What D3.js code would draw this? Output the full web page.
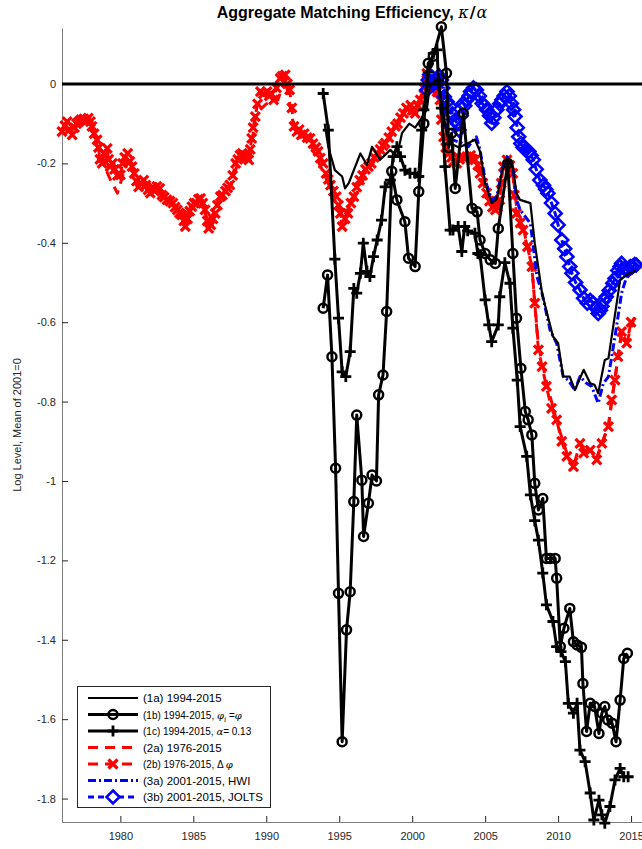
<!DOCTYPE html>
<html>
<head>
<meta charset="utf-8">
<script src="https://cdn.jsdelivr.net/npm/d3@7"></script>
<style>
  body { margin: 0; background: #fff; }
  text { font-family: "Liberation Sans", Arial, sans-serif; fill: #262626; }
  .greek { font-family: "DejaVu Serif", serif; font-style: italic; font-weight: normal; }
</style>
</head>
<body>
<svg id="chart"></svg>
<script>
// x tick labels
const yearTicks = [1980, 1985, 1990, 1995, 2000, 2005, 2010, 2015];
const levelTicks = [0, -0.2, -0.4, -0.6, -0.8, -1, -1.2, -1.4, -1.6, -1.8];

// (1a) 1994-2015
const s1a = [[1994.0,-0.1],[1994.25,-0.158],[1994.7,-0.217],[1995.2,-0.233],[1995.4,-0.263],[1995.65,-0.25],
  [1996.45,-0.175],[1996.9,-0.204],[1997.25,-0.158],[1997.8,-0.191],[1998.5,-0.166],[1998.95,-0.183],
  [1999.3,-0.124],[1999.8,-0.1],[2000.2,-0.11],[2000.55,-0.091],[2001.0,-0.065],[2001.2,-0.007],
  [2001.7,0.01],[2002.0,-0.04],[2002.35,-0.124],[2002.6,-0.149],[2003.2,-0.16],[2003.8,-0.15],
  [2004.3,-0.14],[2004.65,-0.17],[2005.0,-0.25],[2005.45,-0.3],[2005.8,-0.29],[2006.15,-0.22],
  [2006.5,-0.19],[2006.9,-0.21],[2007.15,-0.275],[2007.4,-0.292],[2008.1,-0.3],[2008.4,-0.401],
  [2008.9,-0.527],[2009.3,-0.586],[2009.65,-0.636],[2010.0,-0.653],[2010.35,-0.737],[2010.8,-0.737],
  [2011.15,-0.771],[2011.75,-0.72],[2012.2,-0.754],[2012.5,-0.758],[2012.75,-0.779],[2013.2,-0.695],
  [2013.45,-0.691],[2014.25,-0.494],[2014.7,-0.48],[2015.35,-0.47]];

// (1b) 1994-2015, phi_i = phi
const s1b = [[1993.9,-0.565],[1994.2,-0.481],[1994.5,-0.687],[1994.75,-0.968],[1994.95,-1.283],[1995.2,-1.657],
  [1995.5,-1.375],[1995.75,-1.279],[1996.0,-1.052],[1996.2,-0.834],[1996.55,-0.998],[1996.67,-1.14],
  [1997.0,-1.056],[1997.25,-0.985],[1997.55,-1.0],[1997.7,-0.783],[1998.0,-0.733],[1998.25,-0.573],
  [1998.6,-0.22],[1998.95,-0.292],[1999.5,-0.347],[1999.75,-0.439],[2000.2,-0.46],[2000.45,-0.271],
  [2000.8,-0.1],[2001.1,0.052],[2001.45,0.07],[2002.0,0.144],[2002.35,0.027],[2002.5,-0.16],
  [2002.7,-0.124],[2002.95,-0.263],[2003.5,-0.074],[2004.1,-0.313],[2004.45,-0.322],[2004.65,-0.393],
  [2005.0,-0.427],[2005.35,-0.443],[2005.7,-0.452],[2005.9,-0.364],[2006.55,-0.2],[2006.9,-0.427],
  [2007.15,-0.59],[2007.45,-0.716],[2007.75,-0.825],[2007.95,-0.846],[2008.2,-0.884],[2008.4,-1.006],
  [2008.65,-1.073],[2008.95,-1.044],[2009.2,-1.195],[2009.45,-1.195],[2009.8,-1.195],[2009.9,-1.245],
  [2010.15,-1.417],[2010.4,-1.371],[2010.8,-1.321],[2011.05,-1.405],[2011.3,-1.413],[2011.6,-1.419],
  [2011.7,-1.51],[2011.95,-1.631],[2012.2,-1.56],[2012.5,-1.568],[2012.8,-1.636],[2013.0,-1.585],
  [2013.2,-1.568],[2013.4,-1.602],[2013.7,-1.61],[2013.97,-1.657],[2014.25,-1.552],[2014.5,-1.447],
  [2014.75,-1.434]];

// (1c) 1994-2015, alpha = 0.13
const s1c = [[1993.9,-0.024],[1994.25,-0.116],[1994.7,-0.441],[1994.95,-0.59],[1995.2,-0.725],[1995.45,-0.737],
  [1995.75,-0.674],[1996.0,-0.515],[1996.2,-0.527],[1996.45,-0.477],[1996.65,-0.401],[1996.9,-0.472],
  [1997.1,-0.485],[1997.35,-0.435],[1997.6,-0.393],[1997.9,-0.343],[1998.15,-0.259],[1998.5,-0.242],
  [1998.7,-0.183],[1998.95,-0.158],[1999.2,-0.183],[1999.5,-0.217],[1999.85,-0.225],[2000.2,-0.225],
  [2000.45,-0.233],[2000.65,-0.116],[2000.8,-0.065],[2001.1,0.03],[2001.45,0.077],[2001.7,0.086],
  [2001.8,0.01],[2002.0,-0.061],[2002.25,-0.208],[2002.6,-0.368],[2002.8,-0.368],[2003.15,-0.359],
  [2003.4,-0.422],[2003.6,-0.359],[2003.8,-0.37],[2004.3,-0.376],[2004.5,-0.427],[2004.65,-0.43],
  [2005.0,-0.544],[2005.25,-0.607],[2005.45,-0.649],[2005.9,-0.607],[2006.0,-0.536],[2006.35,-0.45],
  [2006.7,-0.502],[2006.9,-0.615],[2007.2,-0.746],[2007.4,-0.863],[2007.85,-0.938],[2008.1,-1.035],
  [2008.4,-1.1],[2008.65,-1.149],[2008.95,-1.232],[2009.2,-1.312],[2009.65,-1.354],[2009.9,-1.417],
  [2010.2,-1.43],[2010.5,-1.455],[2010.7,-1.56],[2011.05,-1.585],[2011.3,-1.56],[2011.5,-1.678],
  [2011.85,-1.707],[2012.2,-1.786],[2012.45,-1.854],[2012.8,-1.804],[2013.0,-1.841],[2013.2,-1.862],
  [2013.55,-1.82],[2013.9,-1.753],[2014.25,-1.724],[2014.5,-1.745],[2014.8,-1.745]];

// (2a) 1976-2015
const s2a = [[1976.0,-0.11],[1976.7,-0.12],[1977.3,-0.095],[1978.0,-0.1],[1978.6,-0.18],[1979.3,-0.24],
  [1979.8,-0.275],[1980.5,-0.19],[1981.25,-0.25],[1981.9,-0.26],[1982.7,-0.27],[1983.5,-0.3],
  [1984.45,-0.35],[1984.9,-0.31],[1985.5,-0.295],[1986.05,-0.35],[1986.85,-0.29],[1987.5,-0.26],
  [1988.2,-0.185],[1988.8,-0.2],[1989.3,-0.075],[1990.0,-0.05],[1990.8,-0.04],[1991.3,0.015],
  [1991.9,-0.11],[1993.0,-0.15],[1994.25,-0.25],[1995.2,-0.34],[1996.0,-0.29],[1997.0,-0.215],
  [1998.15,-0.155],[1999.4,-0.08],[2000.2,-0.07],[2001.0,0.01],[2001.9,-0.05],[2002.5,-0.165],
  [2003.4,-0.19],[2004.3,-0.18],[2005.1,-0.27],[2005.7,-0.31],[2006.25,-0.21],[2006.5,-0.19],
  [2006.9,-0.22],[2007.15,-0.31],[2007.6,-0.36],[2008.2,-0.46],[2008.65,-0.66],[2009.2,-0.75],
  [2009.9,-0.85],[2010.6,-0.93],[2011.05,-0.955],[2011.75,-0.92],[2012.65,-0.94],[2013.45,-0.86],
  [2013.9,-0.74],[2014.35,-0.63],[2014.7,-0.65],[2015.3,-0.58]];

// (2b) 1976-2015, Delta phi
const s2b = [[1976.0,-0.12],[1976.2,-0.105],[1976.35,-0.095],[1976.5,-0.115],[1976.7,-0.128],[1976.85,-0.11],
  [1977.0,-0.1],[1977.15,-0.095],[1977.3,-0.09],[1977.5,-0.088],[1977.65,-0.092],[1977.8,-0.086],
  [1977.95,-0.095],[1978.05,-0.107],[1978.2,-0.125],[1978.4,-0.141],[1978.5,-0.16],[1978.6,-0.19],
  [1978.75,-0.2],[1978.9,-0.175],[1979.1,-0.162],[1979.2,-0.19],[1979.3,-0.208],[1979.45,-0.2],
  [1979.6,-0.215],[1979.8,-0.23],[1980.0,-0.229],[1980.15,-0.2],[1980.3,-0.185],[1980.5,-0.175],
  [1980.65,-0.195],[1980.8,-0.208],[1980.95,-0.225],[1981.1,-0.245],[1981.25,-0.259],[1981.4,-0.25],
  [1981.6,-0.242],[1981.75,-0.255],[1981.9,-0.267],[1982.05,-0.275],[1982.2,-0.26],[1982.35,-0.27],
  [1982.5,-0.258],[1982.7,-0.263],[1982.85,-0.28],[1983.0,-0.285],[1983.2,-0.292],[1983.4,-0.295],
  [1983.6,-0.3],[1983.75,-0.31],[1983.9,-0.317],[1984.05,-0.325],[1984.2,-0.33],[1984.35,-0.345],
  [1984.45,-0.359],[1984.6,-0.34],[1984.75,-0.32],[1984.9,-0.309],[1985.05,-0.3],[1985.2,-0.3],
  [1985.35,-0.29],[1985.5,-0.288],[1985.65,-0.3],[1985.8,-0.317],[1985.95,-0.345],[1986.05,-0.364],
  [1986.2,-0.355],[1986.35,-0.34],[1986.5,-0.326],[1986.65,-0.305],[1986.85,-0.284],[1987.0,-0.28],
  [1987.2,-0.27],[1987.35,-0.262],[1987.5,-0.254],[1987.7,-0.23],[1987.9,-0.2],[1988.05,-0.19],
  [1988.2,-0.179],[1988.35,-0.175],[1988.5,-0.18],[1988.65,-0.185],[1988.8,-0.191],[1988.9,-0.165],
  [1989.0,-0.137],[1989.1,-0.11],[1989.25,-0.082],[1989.4,-0.05],[1989.6,-0.019],[1989.8,-0.025],
  [1990.05,-0.019],[1990.2,-0.03],[1990.35,-0.025],[1990.5,-0.04],[1990.7,-0.01],[1990.95,0.014],
  [1991.1,0.02],[1991.3,0.023],[1991.45,0.0],[1991.6,-0.015],[1991.75,-0.06],[1991.9,-0.107],
  [1992.1,-0.12],[1992.25,-0.115],[1992.4,-0.128],[1992.6,-0.125],[1992.8,-0.135],[1993.0,-0.137],
  [1993.2,-0.15],[1993.4,-0.16],[1993.55,-0.17],[1993.7,-0.187],[1993.9,-0.2],[1994.1,-0.225],
  [1994.25,-0.24],[1994.4,-0.255],[1994.6,-0.27],[1994.8,-0.284],[1994.95,-0.305],[1995.07,-0.326],
  [1995.2,-0.359],[1995.4,-0.34],[1995.6,-0.326],[1995.8,-0.3],[1996.0,-0.284],[1996.2,-0.26],
  [1996.4,-0.242],[1996.6,-0.23],[1996.8,-0.215],[1997.0,-0.208],[1997.2,-0.2],[1997.4,-0.185],
  [1997.6,-0.175],[1997.8,-0.165],[1998.0,-0.155],[1998.15,-0.149],[1998.4,-0.135],[1998.6,-0.12],
  [1998.85,-0.107],[1999.0,-0.1],[1999.2,-0.085],[1999.4,-0.074],[1999.6,-0.06],[1999.9,-0.053],
  [2000.05,-0.065],[2000.2,-0.074],[2000.4,-0.055],[2000.55,-0.04],[2000.8,-0.01],[2001.0,0.027],
  [2001.2,0.01],[2001.45,-0.007],[2001.7,-0.02],[2001.9,-0.04],[2002.0,-0.09],[2002.15,-0.133],
  [2002.3,-0.16],[2002.5,-0.175],[2002.7,-0.185],[2002.85,-0.195],[2003.05,-0.2],[2003.25,-0.19],
  [2003.5,-0.185],[2003.75,-0.183],[2004.0,-0.18],[2004.15,-0.19],[2004.3,-0.191],[2004.5,-0.205],
  [2004.65,-0.225],[2004.85,-0.25],[2005.1,-0.275],[2005.3,-0.295],[2005.5,-0.31],[2005.7,-0.317],
  [2005.85,-0.31],[2006.0,-0.292],[2006.1,-0.25],[2006.25,-0.208],[2006.5,-0.191],[2006.7,-0.205],
  [2006.9,-0.225],[2007.0,-0.28],[2007.15,-0.326],[2007.4,-0.35],[2007.6,-0.368],[2007.9,-0.41],
  [2008.2,-0.46],[2008.4,-0.552],[2008.65,-0.67],[2008.9,-0.712],[2009.2,-0.762],[2009.55,-0.817],
  [2009.9,-0.846],[2010.25,-0.9],[2010.6,-0.938],[2011.05,-0.964],[2011.5,-0.905],[2011.75,-0.93],
  [2012.2,-0.922],[2012.65,-0.947],[2013.0,-0.905],[2013.45,-0.863],[2013.67,-0.796],[2013.9,-0.746],
  [2014.1,-0.687],[2014.35,-0.624],[2014.7,-0.653],[2015.0,-0.6]];

// (3a) 2001-2015, HWI
const s3a = [[2001.0,0.0],[2001.5,0.02],[2002.1,0.01],[2002.35,-0.124],[2002.8,-0.141],[2003.4,-0.149],
  [2003.85,-0.158],[2004.1,-0.145],[2004.4,-0.133],[2004.65,-0.166],[2005.0,-0.242],[2005.45,-0.292],
  [2005.8,-0.284],[2006.15,-0.217],[2006.5,-0.183],[2006.9,-0.208],[2007.15,-0.292],[2007.4,-0.317],
  [2008.1,-0.351],[2008.55,-0.485],[2008.9,-0.527],[2009.45,-0.62],[2009.9,-0.653],[2010.35,-0.737],
  [2010.7,-0.746],[2011.15,-0.771],[2011.5,-0.737],[2011.95,-0.754],[2012.3,-0.762],[2012.75,-0.804],
  [2013.1,-0.754],[2013.45,-0.737],[2013.9,-0.636],[2014.35,-0.527],[2014.7,-0.485],[2015.35,-0.469]];

// (3b) 2001-2015, JOLTS
const s3b = [[2001.0,-0.015],[2001.1,0.01],[2001.2,0.023],[2001.35,0.005],[2001.45,0.0],[2001.6,0.01],
  [2001.7,0.014],[2001.85,0.02],[2002.0,0.01],[2002.1,-0.01],[2002.2,-0.032],[2002.4,-0.045],
  [2002.6,-0.057],[2002.75,-0.075],[2002.95,-0.091],[2003.1,-0.1],[2003.2,-0.116],[2003.35,-0.08],
  [2003.5,-0.049],[2003.6,-0.055],[2003.75,-0.04],[2003.9,-0.03],[2004.0,-0.019],[2004.2,-0.01],
  [2004.4,-0.015],[2004.6,-0.03],[2004.8,-0.049],[2004.95,-0.055],[2005.1,-0.065],[2005.3,-0.08],
  [2005.45,-0.099],[2005.6,-0.085],[2005.8,-0.065],[2006.0,-0.05],[2006.15,-0.04],[2006.3,-0.03],
  [2006.5,-0.019],[2006.65,-0.03],[2006.8,-0.049],[2006.95,-0.065],[2007.05,-0.082],[2007.2,-0.11],
  [2007.3,-0.133],[2007.45,-0.15],[2007.6,-0.16],[2007.8,-0.165],[2008.0,-0.17],[2008.15,-0.18],
  [2008.3,-0.191],[2008.5,-0.215],[2008.75,-0.242],[2009.0,-0.255],[2009.15,-0.265],[2009.3,-0.275],
  [2009.55,-0.3],[2009.8,-0.326],[2010.0,-0.355],[2010.25,-0.393],[2010.45,-0.415],[2010.6,-0.435],
  [2010.8,-0.46],[2010.95,-0.477],[2011.2,-0.5],[2011.5,-0.519],[2011.75,-0.54],[2012.0,-0.552],
  [2012.2,-0.545],[2012.4,-0.552],[2012.6,-0.565],[2012.75,-0.578],[2012.9,-0.57],[2013.0,-0.56],
  [2013.15,-0.545],[2013.3,-0.536],[2013.5,-0.52],[2013.75,-0.502],[2013.9,-0.49],[2014.1,-0.47],
  [2014.25,-0.46],[2014.35,-0.452],[2014.55,-0.465],[2014.8,-0.469],[2014.95,-0.46],[2015.1,-0.46],
  [2015.25,-0.455],[2015.35,-0.456]];

const legendLabels = ['(1a) 1994-2015', '(1b) 1994-2015, ', '(1c) 1994-2015, ', '(2a) 1976-2015',
  '(2b) 1976-2015, ', '(3a) 2001-2015, HWI', '(3b) 2001-2015, JOLTS'];

const W = 642, H = 849;
const svg = d3.select('#chart').attr('width', W).attr('height', H);

const x = d3.scaleLinear().domain([1976, 2015.75]).range([62, 642]);
const y = d3.scaleLinear().domain([-1.859, 0.141]).range([822, 28]);

// marker shapes
const markers = {
  circle: 'M4.5,0A4.5,4.5 0 1,1 -4.5,0A4.5,4.5 0 1,1 4.5,0Z',
  plus: 'M-5.5,0H5.5M0,-5.5V5.5',
  cross: 'M-4.5,-4.5L4.5,4.5M-4.5,4.5L4.5,-4.5',
  diamond: 'M0,-6.5L6.5,0L0,6.5L-6.5,0Z'
};

const styles = {
  s1a: { color: '#000', width: 2.2, dash: null, marker: null, mw: 0 },
  s1b: { color: '#000', width: 3, dash: null, marker: 'circle', mw: 2.5 },
  s1c: { color: '#000', width: 3, dash: null, marker: 'plus', mw: 2.8 },
  s2a: { color: '#ff0000', width: 3, dash: '10,7', marker: null, mw: 0 },
  s2b: { color: '#ff0000', width: 3, dash: '10,7', marker: 'cross', mw: 3.2 },
  s3a: { color: '#0000ff', width: 3, dash: '8,3,2,3', marker: null, mw: 0 },
  s3b: { color: '#0000ff', width: 3, dash: '6,4', marker: 'diamond', mw: 2.6 }
};

const line = d3.line().x(d => x(d[0])).y(d => y(d[1]));

function drawSeries(data, st) {
  svg.append('path')
    .attr('d', line(data))
    .attr('fill', 'none')
    .attr('stroke', st.color)
    .attr('stroke-width', st.width)
    .attr('stroke-dasharray', st.dash)
    .attr('stroke-linejoin', 'round');
  if (st.marker) {
    svg.append('g').selectAll('path')
      .data(data)
      .enter()
      .append('path')
      .attr('transform', d => `translate(${x(d[0])},${y(d[1])})`)
      .attr('d', markers[st.marker])
      .attr('fill', 'none')
      .attr('stroke', st.color)
      .attr('stroke-width', st.mw);
  }
}

// axes (ticks point inward, no box)
const xAxis = svg.append('g')
  .attr('transform', 'translate(0,822)')
  .call(d3.axisBottom(x).tickValues(yearTicks).tickFormat(d3.format('d')).tickSizeInner(-6).tickSizeOuter(0).tickPadding(10));
const yAxis = svg.append('g')
  .attr('transform', 'translate(62,0)')
  .call(d3.axisLeft(y).tickValues(levelTicks).tickFormat(d => d === 0 ? '0' : String(d)).tickSizeInner(-6).tickSizeOuter(0).tickPadding(6));
[xAxis, yAxis].forEach(a => {
  a.select('.domain').attr('stroke', '#7f7f7f').attr('stroke-width', 1);
  a.selectAll('.tick line').attr('stroke', '#262626');
  a.selectAll('.tick text').attr('font-size', 11).attr('font-family', '"Liberation Sans", Arial, sans-serif').attr('fill', '#262626');
});

// series, red under blue under black
drawSeries(s2a, styles.s2a);
drawSeries(s2b, styles.s2b);
drawSeries(s3a, styles.s3a);
drawSeries(s3b, styles.s3b);
drawSeries(s1a, styles.s1a);
drawSeries(s1b, styles.s1b);
drawSeries(s1c, styles.s1c);

// zero reference line
svg.append('line')
  .attr('x1', x(1976)).attr('x2', x(2015.75))
  .attr('y1', y(0)).attr('y2', y(0))
  .attr('stroke', '#000').attr('stroke-width', 3);

// title
const title = svg.append('text')
  .attr('x', 352).attr('y', 18)
  .attr('text-anchor', 'middle')
  .attr('font-size', 16).attr('font-weight', 'bold')
  .style('fill', '#000');
title.append('tspan').text('Aggregate Matching Efficiency, ');
title.append('tspan').attr('class', 'greek').text('κ');
title.append('tspan').attr('font-family', '"DejaVu Sans", sans-serif').attr('dx', 1).text('/');
title.append('tspan').attr('class', 'greek').attr('dx', 1).text('α');

// y label
svg.append('text')
  .attr('transform', 'translate(21,425) rotate(-90)')
  .attr('text-anchor', 'middle')
  .attr('font-size', 11)
  .text('Log Level, Mean of 2001=0');

// legend
const lg = svg.append('g');
lg.append('rect')
  .attr('x', 77.5).attr('y', 686.5).attr('width', 193).attr('height', 121)
  .attr('fill', '#fff').attr('stroke', '#262626').attr('stroke-width', 1);

const keys = ['s1a', 's1b', 's1c', 's2a', 's2b', 's3a', 's3b'];
const rowY = d3.scaleLinear().domain([0, 6]).range([698, 797]);
keys.forEach((k, i) => {
  const st = styles[k];
  const yy = rowY(i);
  lg.append('line')
    .attr('x1', 88).attr('x2', 138).attr('y1', yy).attr('y2', yy)
    .attr('stroke', st.color).attr('stroke-width', st.width)
    .attr('stroke-dasharray', st.dash);
  if (st.marker) {
    lg.append('path')
      .attr('transform', `translate(113,${yy})`)
      .attr('d', markers[st.marker])
      .attr('fill', st.marker === 'diamond' ? '#fff' : 'none')
      .attr('stroke', st.color).attr('stroke-width', st.mw);
  }
  const tex = (k === 's1b' || k === 's1c' || k === 's2b');
  const t = lg.append('text')
    .attr('x', 143).attr('y', yy + 4)
    .attr('font-size', tex ? 10 : 11.5)
    .style('fill', '#000');
  t.append('tspan').text(legendLabels[i]);
  if (k === 's1b') {
    t.append('tspan').attr('class', 'greek').text('φ');
    t.append('tspan').attr('class', 'greek').attr('font-size', 7).attr('dy', 3).text('i');
    t.append('tspan').attr('dy', -3).text(' =');
    t.append('tspan').attr('class', 'greek').text('φ');
  } else if (k === 's1c') {
    t.append('tspan').attr('class', 'greek').text('α');
    t.append('tspan').text('= 0.13');
  } else if (k === 's2b') {
    t.append('tspan').text('Δ ');
    t.append('tspan').attr('class', 'greek').text('φ');
  }
});
</script>
</body>
</html>
